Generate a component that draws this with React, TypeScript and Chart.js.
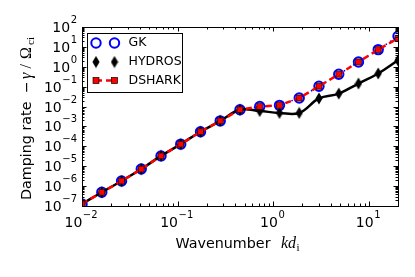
import React, { useEffect, useRef } from 'react';
import { Chart, registerables } from 'chart.js';

Chart.register(...registerables);

// ---- data ----
const kValues = [0.01, 0.0161, 0.0259, 0.0416, 0.0669, 0.1075, 0.173, 0.278, 0.447, 0.719, 1.156, 1.859, 2.99, 4.81, 7.73, 12.43, 20];
const gkValues = [1.26e-7, 4.9e-7, 1.8e-6, 7.2e-6, 3.3e-5, 1.29e-4, 5.4e-4, 1.9e-3, 6.9e-3, 1.0e-2, 1.15e-2, 2.7e-2, 0.105, 0.42, 1.75, 7.3, 34];
const hydrosValues = [1.26e-7, 4.9e-7, 1.8e-6, 7.2e-6, 3.3e-5, 1.29e-4, 5.4e-4, 1.9e-3, 6.9e-3, 6.0e-3, 4.8e-3, 4.8e-3, 0.0255, 0.045, 0.144, 0.46, 2.1];
const dsharkValues = [1.26e-7, 4.9e-7, 1.8e-6, 7.2e-6, 3.3e-5, 1.29e-4, 5.4e-4, 1.9e-3, 6.9e-3, 1.0e-2, 1.15e-2, 2.7e-2, 0.105, 0.42, 1.75, 7.3, 27];
const seriesLabels = ['GK', 'HYDROS', 'DSHARK'];
const xTickValues = [0.01, 0.1, 1, 10];
const yTickValues = [1e-7, 1e-6, 1e-5, 1e-4, 1e-3, 1e-2, 1e-1, 1, 10, 100];
const xRange = [0.01, 20];
const yRange = [1e-7, 100];

function exponentOf(v: number): string {
  return String(Math.round(Math.log10(v))).replace('-', '−');
}

function makeDiamond(): HTMLCanvasElement {
  const c = document.createElement('canvas');
  c.width = 8;
  c.height = 13;
  const g = c.getContext('2d')!;
  g.fillStyle = '#000';
  g.beginPath();
  g.moveTo(4, 0.5);
  g.lineTo(7.6, 6.5);
  g.lineTo(4, 12.5);
  g.lineTo(0.4, 6.5);
  g.closePath();
  g.fill();
  return c;
}

const SANS = '"DejaVu Sans", sans-serif';
const SERIF = '"Liberation Serif", serif';
const BASE_FONT = `14px ${SANS}`;
const EXP_FONT = `10px ${SANS}`;

function drawPow(ctx: CanvasRenderingContext2D, v: number, x: number, baseline: number, align: 'right' | 'center') {
  const e = exponentOf(v);
  ctx.font = BASE_FONT;
  const w1 = ctx.measureText('10').width;
  ctx.font = EXP_FONT;
  const w2 = ctx.measureText(e).width;
  const total = w1 + w2 + 0.5;
  const x0 = align === 'right' ? x - total : x - total / 2;
  ctx.textAlign = 'left';
  ctx.textBaseline = 'alphabetic';
  ctx.font = BASE_FONT;
  ctx.fillText('10', x0, baseline);
  ctx.font = EXP_FONT;
  ctx.fillText(e, x0 + w1 + 0.5, baseline - 9);
}

const decorPlugin = {
  id: 'decor',
  afterDraw(chart: any) {
    const { ctx, chartArea: a, scales } = chart;
    const xs = scales.x;
    const ys = scales.y;
    ctx.save();
    ctx.strokeStyle = '#000';
    ctx.lineWidth = 1;
    ctx.strokeRect(a.left + 0.5, a.top + 0.5, a.right - a.left, a.bottom - a.top);

    // inward ticks on all four sides
    const tick = (vals: number[], len: number, axis: 'x' | 'y') => {
      ctx.beginPath();
      for (const v of vals) {
        if (axis === 'x') {
          if (v < xRange[0] || v > xRange[1]) continue;
          const px = Math.round(xs.getPixelForValue(v)) + 0.5;
          ctx.moveTo(px, a.bottom);
          ctx.lineTo(px, a.bottom - len);
          ctx.moveTo(px, a.top);
          ctx.lineTo(px, a.top + len);
        } else {
          if (v < yRange[0] || v > yRange[1]) continue;
          const py = Math.round(ys.getPixelForValue(v)) + 0.5;
          ctx.moveTo(a.left, py);
          ctx.lineTo(a.left + len, py);
          ctx.moveTo(a.right, py);
          ctx.lineTo(a.right - len, py);
        }
      }
      ctx.stroke();
    };
    const minors = (lo: number, hi: number) => {
      const out: number[] = [];
      for (let d = lo; d <= hi; d++) for (let m = 2; m <= 9; m++) out.push(m * Math.pow(10, d));
      return out;
    };
    tick(xTickValues, 4.5, 'x');
    tick(minors(-2, 1), 2.5, 'x');
    tick(yTickValues, 4.5, 'y');
    tick(minors(-7, 1), 2.5, 'y');

    // tick labels (10 with raised exponent), placed through the scales
    ctx.fillStyle = '#000';
    for (const t of xs.ticks) {
      drawPow(ctx, t.value, xs.getPixelForValue(t.value) - 1, a.bottom + 21, 'center');
    }
    for (const t of ys.ticks) {
      drawPow(ctx, t.value, a.left - 5, ys.getPixelForValue(t.value) + 5, 'right');
    }

    // axis titles
    ctx.textBaseline = 'alphabetic';
    ctx.textAlign = 'left';
    ctx.font = `14.3px ${SANS}`;
    ctx.fillText('Wavenumber', 175.5, 248);
    ctx.font = `italic 16px ${SERIF}`;
    ctx.fillText('kd', 281, 248);
    ctx.font = `11px ${SERIF}`;
    ctx.fillText('i', 296.5, 251);

    ctx.save();
    ctx.translate(30.5, 200);
    ctx.rotate(-Math.PI / 2);
    ctx.font = `14.3px ${SANS}`;
    ctx.fillText('Damping rate', 0, 0);
    ctx.font = `14px ${SANS}`;
    ctx.fillText('−', 107, 0);
    ctx.font = `italic 16px ${SERIF}`;
    ctx.fillText('γ', 121, 0);
    ctx.font = `16px ${SERIF}`;
    ctx.fillText('/', 131.5, 0);
    ctx.fillText('Ω', 141, 0);
    ctx.font = `11px ${SERIF}`;
    ctx.fillText('ci', 155, 3.5);
    ctx.restore();

    // legend
    const bx = 87, by = 33, bw = 95, bh = 59;
    ctx.fillStyle = '#fff';
    ctx.fillRect(bx, by, bw, bh);
    ctx.strokeStyle = '#000';
    ctx.lineWidth = 1;
    ctx.strokeRect(bx + 0.5, by + 0.5, bw, bh);
    const rows = [43, 62, 80.5];
    const mx = [96, 114.5];
    const dsets = chart.data.datasets;
    for (let i = 0; i < dsets.length; i++) {
      const ds = dsets[i];
      const y = rows[i];
      if (ds.showLegendLine) {
        ctx.save();
        ctx.strokeStyle = ds.borderColor;
        ctx.lineWidth = ds.borderWidth;
        ctx.setLineDash(ds.borderDash || []);
        ctx.beginPath();
        ctx.moveTo(mx[0], y);
        ctx.lineTo(mx[1], y);
        ctx.stroke();
        ctx.restore();
      }
      for (const x of mx) {
        const st = ds.pointStyle;
        if (st === 'circle') {
          ctx.strokeStyle = ds.pointBorderColor;
          ctx.lineWidth = ds.pointBorderWidth;
          ctx.beginPath();
          ctx.arc(x, y, ds.pointRadius, 0, Math.PI * 2);
          ctx.stroke();
        } else if (st === 'rect') {
          const s = ds.pointRadius * Math.SQRT1_2;
          ctx.fillStyle = ds.pointBackgroundColor;
          ctx.fillRect(x - s, y - s, 2 * s, 2 * s);
          ctx.strokeStyle = ds.pointBorderColor;
          ctx.lineWidth = ds.pointBorderWidth;
          ctx.strokeRect(x - s, y - s, 2 * s, 2 * s);
        } else if (st && st.width) {
          ctx.drawImage(st, x - st.width / 2, y - st.height / 2);
        }
      }
      ctx.fillStyle = '#000';
      ctx.font = `12.5px ${SANS}`;
      ctx.textBaseline = 'middle';
      ctx.fillText(ds.label, 128.5, y);
    }
    ctx.restore();
  },
};

export default function App() {
  const ref = useRef<HTMLCanvasElement>(null);
  useEffect(() => {
    const diamond = makeDiamond();
    const pts = (ys: number[]) => kValues.map((k, i) => ({ x: k, y: ys[i] }));
    const chart = new Chart(ref.current!, {
      type: 'line',
      data: {
        datasets: [
          {
            label: seriesLabels[0],
            data: pts(gkValues),
            borderColor: '#0000ff',
            borderWidth: 1.5,
            borderDash: [1.5, 4],
            pointStyle: 'circle',
            pointRadius: 4.7,
            pointBorderWidth: 2,
            pointBackgroundColor: 'rgba(0,0,0,0)',
            pointBorderColor: '#0000ff',
            tension: 0,
            order: 3,
          } as any,
          {
            label: seriesLabels[1],
            data: pts(hydrosValues),
            borderColor: '#000000',
            borderWidth: 2.5,
            pointStyle: diamond,
            pointRadius: 5,
            pointBackgroundColor: '#000',
            pointBorderColor: '#000',
            tension: 0.4,
            order: 2,
          } as any,
          {
            label: seriesLabels[2],
            data: pts(dsharkValues),
            borderColor: '#ff0000',
            borderWidth: 2.5,
            borderDash: [6, 4],
            pointStyle: 'rect',
            pointRadius: 4.2,
            pointBorderWidth: 0.7,
            pointBackgroundColor: '#ff0000',
            pointBorderColor: '#000000',
            tension: 0,
            order: 1,
            showLegendLine: true,
          } as any,
        ],
      },
      options: {
        animation: false,
        responsive: false,
        layout: { padding: { top: 27, right: 17, left: 0, bottom: 0 } },
        plugins: { legend: { display: false }, tooltip: { enabled: false }, title: { display: false } },
        scales: {
          x: {
            type: 'logarithmic',
            min: xRange[0],
            max: xRange[1],
            grid: { display: false },
            border: { display: false },
            ticks: { display: false, autoSkip: false },
            afterBuildTicks: (s: any) => {
              s.ticks = xTickValues.map((v) => ({ value: v }));
            },
            afterFit: (s: any) => {
              s.height = 71;
            },
          },
          y: {
            type: 'logarithmic',
            min: yRange[0],
            max: yRange[1],
            grid: { display: false },
            border: { display: false },
            ticks: { display: false, autoSkip: false },
            afterBuildTicks: (s: any) => {
              s.ticks = yTickValues.map((v) => ({ value: v }));
            },
            afterFit: (s: any) => {
              s.width = 82;
            },
          },
        },
      } as any,
      plugins: [decorPlugin],
    });
    return () => chart.destroy();
  }, []);
  return (
    <canvas
      ref={ref}
      width={415}
      height={277}
      style={{ position: 'absolute', left: 0, top: 0, width: 415, height: 277, display: 'block' }}
    />
  );
}
